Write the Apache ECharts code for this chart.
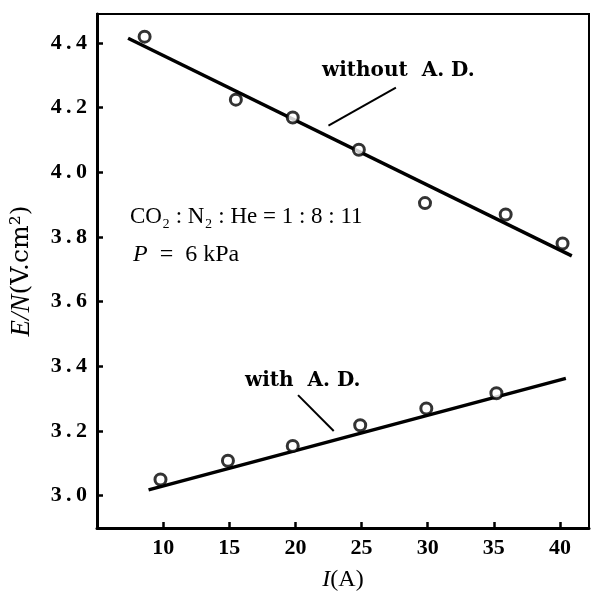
<!DOCTYPE html>
<html><head><meta charset="utf-8">
<script src="https://cdn.jsdelivr.net/npm/echarts@6/dist/echarts.min.js"></script>
<style>html,body{margin:0;padding:0;background:#fff}#c{width:597px;height:597px}</style>
</head><body><div id="c"></div>
<script>
// Data
const withoutI = [8.6, 15.5, 19.8, 24.8, 29.8, 35.9, 40.2];
const withoutEN = [4.42, 4.225, 4.17, 4.07, 3.905, 3.87, 3.78];
const withI = [9.8, 14.9, 19.8, 24.9, 29.9, 35.2];
const withEN = [3.05, 3.108, 3.154, 3.218, 3.27, 3.317];
const fitWithoutI = [7.35, 40.9];
const fitWithoutEN = [4.415, 3.742];
const fitWithI = [8.9, 40.45];
const fitWithEN = [3.018, 3.363];
const xTicks = [10, 15, 20, 25, 30, 35, 40];
const yTicks = [3.0, 3.2, 3.4, 3.6, 3.8, 4.0, 4.2, 4.4];
const leaderWithout = [[27.6, 4.262], [22.5, 4.145]];
const leaderWith = [[20.2, 3.311], [22.9, 3.2]];

const zip = (a, b) => a.map((v, i) => [v, b[i]]);
const F = '"Liberation Serif", "DejaVu Serif", serif';
const FD = '"DejaVu Serif", "Liberation Serif", serif';
const chart = echarts.init(document.getElementById('c'));
chart.setOption({
  animation: false,
  backgroundColor: '#fff',
  grid: { left: 97, right: 8, top: 14, bottom: 67, show: true, borderColor: '#000', borderWidth: 2 },
  xAxis: {
    type: 'value', min: 5.0, max: 42.2,
    axisLine: { show: true, lineStyle: { color: '#000', width: 3 } },
    axisTick: { show: true, inside: true, length: 6, lineStyle: { color: '#000', width: 2.5 }, customValues: xTicks },
    axisLabel: { customValues: xTicks, color: '#000', fontFamily: F, fontWeight: 'bold', fontSize: 22, margin: 9 },
    splitLine: { show: false },
    name: '{i|I}{n|(A)}', nameLocation: 'middle', nameGap: 40,
    nameTextStyle: { rich: {
      i: { fontFamily: F, fontStyle: 'italic', fontSize: 24, color: '#000' },
      n: { fontFamily: F, fontSize: 24, color: '#000' } } }
  },
  yAxis: {
    type: 'value', min: 2.9, max: 4.49,
    axisLine: { show: true, lineStyle: { color: '#000', width: 3 } },
    axisTick: { show: true, inside: true, length: 6, lineStyle: { color: '#000', width: 2.5 }, customValues: yTicks },
    axisLabel: { customValues: yTicks, color: '#000', fontFamily: F, fontWeight: 'bold', fontSize: 22, margin: 10,
      formatter: v => v.toFixed(1).replace('.', '\u2009.\u2009') },
    splitLine: { show: false },
    name: '{i|E/N}{n|(V.cm²)}', nameLocation: 'middle', nameGap: 62, nameRotate: 90,
    nameTextStyle: { rich: {
      i: { fontFamily: F, fontStyle: 'italic', fontSize: 27, color: '#000' },
      n: { fontFamily: FD, fontSize: 25, color: '#000' } } }
  },
  series: [
    { type: 'line', data: zip(fitWithoutI, fitWithoutEN), symbol: 'none', lineStyle: { color: '#000', width: 3.5 }, z: 2,
      markLine: { silent: true, symbol: 'none', label: { show: false }, lineStyle: { color: '#000', width: 2, type: 'solid' },
        data: [[{ coord: leaderWithout[0] }, { coord: leaderWithout[1] }]] } },
    { type: 'line', data: zip(fitWithI, fitWithEN), symbol: 'none', lineStyle: { color: '#000', width: 3.5 }, z: 2,
      markLine: { silent: true, symbol: 'none', label: { show: false }, lineStyle: { color: '#000', width: 2, type: 'solid' },
        data: [[{ coord: leaderWith[0] }, { coord: leaderWith[1] }]] } },
    { type: 'scatter', data: zip(withoutI, withoutEN), symbol: 'circle', symbolSize: 11,
      itemStyle: { color: '#fff', borderColor: '#000', borderWidth: 3 }, z: 3 },
    { type: 'scatter', data: zip(withI, withEN), symbol: 'circle', symbolSize: 11,
      itemStyle: { color: '#fff', borderColor: '#000', borderWidth: 3 }, z: 3 }
  ],
  graphic: [
    { type: 'text', left: 322, top: 61, style: { text: 'without  A. D.', font: 'bold 20px ' + FD, fill: '#000' } },
    { type: 'text', left: 245, top: 371, style: { text: 'with  A. D.', font: 'bold 20px ' + FD, fill: '#000' } },
    { type: 'text', left: 130, top: 205, style: { text: 'CO₂ : N₂ : He = 1 : 8 : 11', font: '23px ' + F, fill: '#000' } },
    { type: 'text', left: 133, top: 243, style: { text: '{i|P}  =  6 kPa', font: '24px ' + F, fill: '#000',
      rich: { i: { font: 'italic 24px ' + F, fill: '#000' } } } }
  ]
});
</script></body></html>
